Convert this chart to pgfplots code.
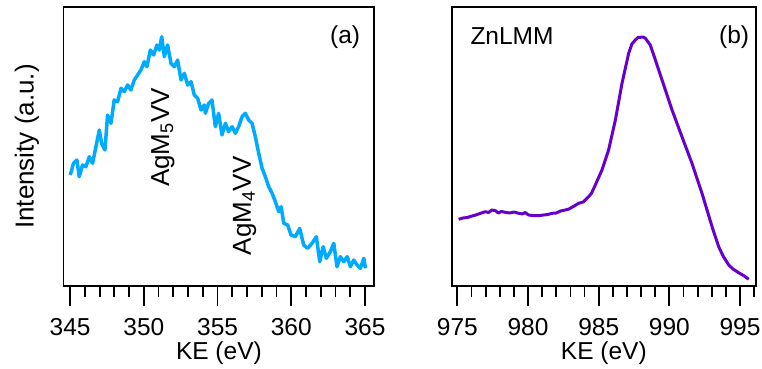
\documentclass[border=0pt]{standalone}
\usepackage{pgfplots}
\pgfplotsset{compat=1.18}
\usepackage{fontspec}
\setmainfont{Liberation Sans}
\definecolor{agblue}{RGB}{0,170,255}
\definecolor{znpurple}{RGB}{102,0,204}
\newcommand{\bigf}{\fontsize{24.5bp}{29bp}\selectfont}
\newcommand{\rotf}{\fontsize{26bp}{31bp}\selectfont}
\pgfplotsset{
  panel/.style={
    scale only axis, height=279bp, anchor=south west,
    ymin=0, ymax=279, ytick=\empty,
    xtick pos=bottom, tick align=outside,
    major tick length=20bp, minor tick length=10.5bp,
    tick style={black, line width=1.8bp},
    axis line style={line width=1.8bp, line join=miter},
    /pgf/number format/assume math mode=true,
    /pgf/number format/1000 sep={},
    xticklabel style={font=\bigf, yshift=-8.5bp},
    xlabel={KE (eV)},
    every axis x label/.style={at={(axis description cs:0.5,-0.2624)}, anchor=base, font=\bigf, inner sep=0pt},
    clip=false,
  }
}
\begin{document}
\begin{tikzpicture}
\useasboundingbox (0,0) rectangle (762bp,369bp);
\begin{axis}[panel, at={(63.5bp,83bp)}, width=310.8bp,
  xmin=344.55, xmax=365.63,
  xtick={345,350,355,360,365}, minor xtick={345,...,365},
  ylabel={Intensity (a.u.)},
  every axis y label/.style={at={(axis description cs:-0.0965,0.5)}, rotate=90, anchor=base, inner sep=0pt, font=\rotf},
]
\addplot[agblue, line width=3.5bp, line join=round] coordinates {
(345.01,111) (345.23,122.7) (345.46,126) (345.62,109.3) (345.84,121) (346.07,119.3)
(346.30,129.3) (346.52,122.7) (346.75,139.3) (346.98,156) (347.13,142.7) (347.36,136)
(347.54,171) (347.77,162.7) (347.99,186) (348.22,184.3) (348.45,197.7) (348.67,194.3)
(348.90,201) (349.12,196) (349.35,206) (349.58,211) (349.80,216) (350.03,224.3)
(350.21,219.3) (350.44,236) (350.66,231) (350.89,241) (351.05,236) (351.21,249.3)
(351.39,229.3) (351.61,241) (351.84,222.7) (352.07,219.3) (352.29,226) (352.52,206)
(352.75,212.7) (352.97,201) (353.20,204.3) (353.42,191) (353.65,187.7) (353.88,176)
(354.10,181) (354.17,172.7) (354.40,182.7) (354.62,186) (354.85,159.3) (355.07,172.7)
(355.30,151) (355.53,162.7) (355.75,154.3) (355.98,159.3) (356.21,152.7) (356.43,159.3)
(356.66,169.3) (356.88,172.7) (357.11,166) (357.34,162.7) (357.56,149.3) (357.79,132.7)
(358.02,117.7) (358.24,109.3) (358.47,99.3) (358.70,92.7) (358.92,84.3) (359.15,74.3)
(359.31,79.3) (359.49,62.7) (359.76,61) (359.98,51) (360.28,49.3) (360.57,57.7)
(360.84,41) (361.11,37.7) (361.41,42.7) (361.70,49.3) (361.93,24.3) (362.16,39.3)
(362.38,27.7) (362.65,34.3) (362.88,42.7) (363.10,19.3) (363.33,29.3) (363.56,24.3)
(363.79,29.3) (364.01,19.3) (364.24,26) (364.46,21) (364.69,17.7) (364.92,27.7) (365.03,17.7)
};
\node[font=\bigf] at (axis description cs:0.906,0.892) {(a)};
\node[font=\rotf, rotate=90] at (axis description cs:0.320,0.532) {AgM\textsubscript{5}VV};
\node[font=\rotf, rotate=90] at (axis description cs:0.583,0.287) {AgM\textsubscript{4}VV};
\end{axis}
\begin{axis}[panel, at={(451.7bp,83bp)}, width=304.3bp,
  xmin=974.6, xmax=996.13,
  xtick={975,980,985,990,995}, minor xtick={975,...,996},
]
\addplot[znpurple, line width=3bp, line join=round] coordinates {
(975.09,66.7) (975.4,68) (975.7,68.5) (976.04,70) (976.3,71) (976.6,72.5) (976.98,74.3)
(977.2,73.5) (977.45,76) (977.69,75.3) (977.9,73) (978.1,74.5) (978.39,73.7) (978.7,73)
(979.0,74) (979.34,72.7) (979.6,72) (979.8,73.5) (980.04,71) (980.3,70.5) (980.75,70.3)
(981.1,71) (981.4,71.5) (981.7,72.7) (982.0,73) (982.3,75) (982.64,76) (982.9,77)
(983.2,79.5) (983.58,82.7) (983.9,84) (984.29,89.3) (984.5,93) (984.76,101) (985.23,116)
(985.7,136) (986.18,166) (986.65,202.7) (987.12,232.7) (987.35,242) (987.59,246)
(987.8,248.7) (987.95,248.7) (988.15,249) (988.3,247.7) (988.65,241) (989.01,226)
(989.48,206) (990.19,176) (990.89,149.3) (991.6,122.7) (992.31,92.7) (993.02,59.3)
(993.49,39.3) (993.8,30) (994.2,21) (994.5,17) (994.9,13.3) (995.3,10) (995.61,6.7)
};
\node[font=\bigf, anchor=base west] at (axis description cs:0.0503,0.867) {ZnLMM};
\node[font=\bigf] at (axis description cs:0.928,0.892) {(b)};
\end{axis}
\end{tikzpicture}
\end{document}
